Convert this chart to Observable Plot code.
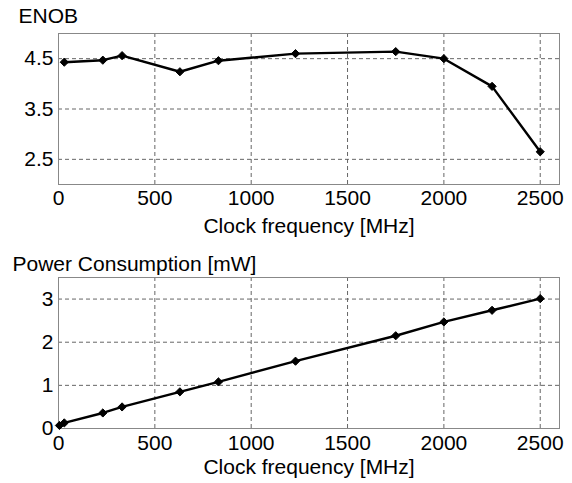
<!DOCTYPE html>
<html>
<head>
<meta charset="utf-8">
<script src="https://cdn.jsdelivr.net/npm/d3@7"></script>
<script src="https://cdn.jsdelivr.net/npm/@observablehq/plot@0.6"></script>
<style>
  body { margin: 0; background: #fff; }
  #chart svg { display: block; }
</style>
</head>
<body>
<div id="chart"></div>
<script>
// ENOB panel data
const enobFreq = [30, 230, 330, 630, 830, 1230, 1750, 2000, 2250, 2500];
const enobValues = [4.43, 4.47, 4.56, 4.24, 4.46, 4.60, 4.64, 4.50, 3.95, 2.65];
// Power panel data
const powerFreq = [5, 30, 230, 330, 630, 830, 1230, 1750, 2000, 2250, 2500];
const powerValues = [0.07, 0.13, 0.36, 0.50, 0.85, 1.08, 1.56, 2.15, 2.47, 2.74, 3.01];
// tick labels
const xTicks = [0, 500, 1000, 1500, 2000, 2500];
const enobTicks = [2.5, 3.5, 4.5];
const powerTicks = [0, 1, 2, 3];
const xLabel = "Clock frequency [MHz]";
const enobTitle = "ENOB";
const powerTitle = "Power Consumption [mW]";

const enobData = enobFreq.map((f, i) => ({f, v: enobValues[i]}));
const powerData = powerFreq.map((f, i) => ({f, v: powerValues[i]}));

const font = "'Liberation Sans', Arial, Helvetica, sans-serif";
const gridStyle = {stroke: "#666", strokeOpacity: 1, strokeWidth: 1, strokeDasharray: "4,3"};
const fmt = d => String(d);

function panel({data, yDomain, yTicks, title, height, mt, mb, titleDx, titleDy, tickPad, labelDy}) {
  return Plot.plot({
    width: 572,
    height,
    marginLeft: 58,
    marginRight: 13,
    marginTop: mt,
    marginBottom: mb,
    style: {fontFamily: font, fontSize: "21px", color: "#000", background: "#fff", overflow: "visible"},
    x: {domain: [0, 2600]},
    y: {domain: yDomain},
    marks: [
      Plot.gridX(xTicks.filter(d => d > 0), gridStyle),
      Plot.gridY(yTicks.filter(d => d > yDomain[0]), gridStyle),
      Plot.frame({stroke: "#888", strokeWidth: 1}),
      Plot.axisX(xTicks, {tickSize: 0, tickPadding: tickPad, label: null, tickFormat: fmt, fontSize: 21}),
      Plot.axisY(yTicks, {tickSize: 0, tickPadding: 5, label: null, tickFormat: fmt, fontSize: 21}),
      Plot.line(data, {x: "f", y: "v", stroke: "#000", strokeWidth: 2.4}),
      Plot.dot(data, {x: "f", y: "v", symbol: "diamond2", r: 3.7, fill: "#000", stroke: "#000", strokeWidth: 1}),
      Plot.text([xLabel], {text: d => d, frameAnchor: "bottom", lineAnchor: "bottom", dy: labelDy, fontSize: 21}),
      Plot.text([title], {text: d => d, frameAnchor: "top-left", textAnchor: "start", lineAnchor: "bottom", dx: titleDx, dy: titleDy, fontSize: 21})
    ]
  });
}

const enobPanel = panel({data: enobData, yDomain: [2, 5], yTicks: enobTicks, title: enobTitle,
  height: 240, mt: 33, mb: 56, titleDx: -40, titleDy: -11, tickPad: 6, labelDy: 48});
const powerPanel = panel({data: powerData, yDomain: [0, 3.5], yTicks: powerTicks, title: powerTitle,
  height: 243, mt: 37, mb: 55, titleDx: -46, titleDy: -7, tickPad: 7, labelDy: 45});

document.getElementById("chart").append(enobPanel, powerPanel);
</script>
</body>
</html>
